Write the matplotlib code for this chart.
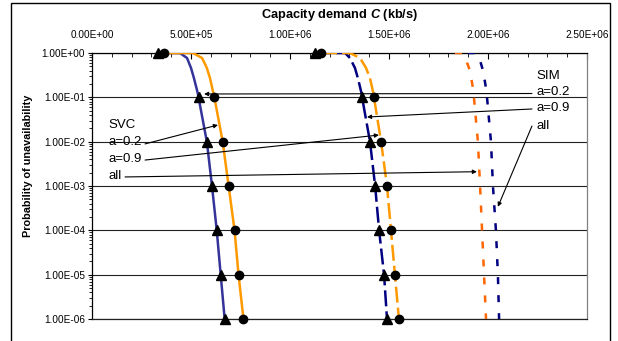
import matplotlib
matplotlib.use('Agg')
import matplotlib.pyplot as plt
from matplotlib.ticker import FixedLocator, FuncFormatter, NullFormatter
from matplotlib.patches import Rectangle

plt.rcParams['font.family'] = ['Liberation Sans', 'DejaVu Sans']
plt.rcParams['mathtext.fontset'] = 'custom'
plt.rcParams['mathtext.bfit'] = 'Liberation Sans:bold:italic'
plt.rcParams['mathtext.rm'] = 'Liberation Sans'

# probabilities along the smooth curves
p_curve = [1, 1, 0.77, 0.46, 0.27, 0.13, 0.1, 1e-2, 1e-3, 1e-4, 1e-5, 1e-6]
p_right = [1, 1, 0.8, 0.4, 0.16, 0.1, 1e-2, 1e-3, 1e-4, 1e-5, 1e-6]
# probabilities where markers sit
p_mark = [1, 1e-1, 1e-2, 1e-3, 1e-4, 1e-5, 1e-6]

# SVC curves (solid)
svc_a02_x = [3.33e5, 4.44e5, 4.80e5, 5.00e5, 5.15e5, 5.33e5, 5.38e5, 5.80e5, 6.06e5, 6.30e5, 6.50e5, 6.70e5]
svc_a09_x = [3.65e5, 5.10e5, 5.56e5, 5.80e5, 5.96e5, 6.12e5, 6.18e5, 6.60e5, 6.90e5, 7.20e5, 7.40e5, 7.65e5]
svc_a02_mark = [3.33e5, 5.38e5, 5.80e5, 6.06e5, 6.30e5, 6.50e5, 6.70e5]
svc_a09_mark = [3.65e5, 6.18e5, 6.60e5, 6.90e5, 7.20e5, 7.40e5, 7.65e5]

# middle curves (long dashes)
mid_a02_x = [1.126e6, 1.278e6, 1.303e6, 1.328e6, 1.343e6, 1.360e6, 1.364e6, 1.404e6, 1.430e6, 1.450e6, 1.475e6, 1.490e6]
mid_a09_x = [1.157e6, 1.303e6, 1.354e6, 1.384e6, 1.404e6, 1.420e6, 1.424e6, 1.460e6, 1.490e6, 1.510e6, 1.530e6, 1.550e6]
mid_a02_mark = [1.126e6, 1.364e6, 1.404e6, 1.430e6, 1.450e6, 1.475e6, 1.490e6]
mid_a09_mark = [1.157e6, 1.424e6, 1.460e6, 1.490e6, 1.510e6, 1.530e6, 1.550e6]

# right curves (short dashes, no markers)
right_or_x = [1.833e6, 1.869e6, 1.884e6, 1.909e6, 1.924e6, 1.929e6, 1.949e6, 1.960e6, 1.970e6, 1.980e6, 1.990e6]
right_nv_x = [1.899e6, 1.934e6, 1.955e6, 1.975e6, 1.990e6, 1.995e6, 2.015e6, 2.025e6, 2.040e6, 2.050e6, 2.056e6]

# axis ticks
x_major = [0, 5e5, 1e6, 1.5e6, 2e6, 2.5e6]
x_minor = [i * 1e5 for i in range(26)]
y_major = [1e-6, 1e-5, 1e-4, 1e-3, 1e-2, 1e-1, 1]
y_minor = [m * 10.0 ** e for e in range(-6, 0) for m in range(2, 10)]

fig = plt.figure(figsize=(6.18, 3.41), dpi=100)
ax = fig.add_axes([92/618, 1-319/341, (587-92)/618, (319-53)/341])

lw = 1.8
ax.plot(svc_a02_x, p_curve, color='#333399', lw=lw, solid_capstyle='butt', zorder=3)
ax.plot(svc_a09_x, p_curve, color='#FF9900', lw=lw, solid_capstyle='butt', zorder=3)
ax.plot(mid_a02_x, p_curve, color='#000080', lw=lw, dashes=(6.4, 2), zorder=3)
ax.plot(mid_a09_x, p_curve, color='#FF9900', lw=lw, dashes=(6.4, 2), zorder=3)
ax.plot(right_or_x, p_right, color='#FF6600', lw=lw, dashes=(2.8, 4.4), zorder=3)
ax.plot(right_nv_x, p_right, color='#000080', lw=lw, dashes=(2.8, 4.4), zorder=3)

ax.plot(svc_a02_mark, p_mark, ls='none', marker='^', ms=6.5, color='black', zorder=4, clip_on=False)
ax.plot(svc_a09_mark, p_mark, ls='none', marker='o', ms=6, color='black', zorder=4, clip_on=False)
ax.plot(mid_a02_mark, p_mark, ls='none', marker='^', ms=6.5, color='black', zorder=4, clip_on=False)
ax.plot(mid_a09_mark, p_mark, ls='none', marker='o', ms=6, color='black', zorder=4, clip_on=False)

ax.set_yscale('log')
ax.set_ylim(1e-6, 1)
ax.set_xlim(0, 2.5e6)

ax.xaxis.tick_top()
ax.xaxis.set_major_locator(FixedLocator(x_major))
ax.xaxis.set_minor_locator(FixedLocator(x_minor))
ax.xaxis.set_major_formatter(FuncFormatter(lambda v, pos: '%.2E' % v))
ax.tick_params(axis='x', which='major', direction='in', length=4, pad=9, labelsize=7.2)
ax.tick_params(axis='x', which='minor', direction='in', length=3)

ax.yaxis.set_major_locator(FixedLocator(y_major))
ax.yaxis.set_minor_locator(FixedLocator(y_minor))
ax.yaxis.set_minor_formatter(NullFormatter())
ax.yaxis.set_major_formatter(FuncFormatter(lambda v, pos: '%.2E' % v))
ax.tick_params(axis='y', which='major', direction='out', length=3, pad=2, labelsize=7.2)
ax.tick_params(axis='y', which='minor', direction='out', length=2)

ax.grid(axis='y', which='major', color='#222222', lw=0.8)
ax.set_axisbelow(True)
ax.spines['right'].set_color('#808080')
ax.spines['bottom'].set_color('#222222')
for s in ax.spines.values():
    s.set_linewidth(0.9)

fig.text(339.5/618, 1-15/341, r'Capacity demand $\mathbfit{C}$ (kb/s)', ha='center', va='center',
         fontsize=9.2, fontweight='bold')
fig.text(28/618, 1-166/341, 'Probability of unavailability', rotation=90, ha='center', va='center',
         fontsize=7.8, fontweight='bold')

# labels and arrows
txt = dict(fontsize=9.5, va='center', ha='left')
ax.text(0.81e5, 0.0238, 'SVC', **txt)
ax.text(0.81e5, 0.0098, 'a=0.2', **txt)
ax.text(0.81e5, 0.0041, 'a=0.9', **txt)
ax.text(0.81e5, 0.0017, 'all', **txt)
ax.text(2.247e6, 0.30, 'SIM', **txt)
ax.text(2.247e6, 0.130, 'a=0.2', **txt)
ax.text(2.247e6, 0.057, 'a=0.9', **txt)
ax.text(2.247e6, 0.0225, 'all', **txt)

arr = dict(arrowstyle='-|>', color='black', lw=0.8, mutation_scale=6, shrinkA=0, shrinkB=0)
ax.annotate('', xy=(6.36e5, 0.0238), xytext=(2.68e5, 0.0089), arrowprops=arr, zorder=5)
ax.annotate('', xy=(1.449e6, 0.0141), xytext=(2.68e5, 0.00385), arrowprops=arr, zorder=5)
ax.annotate('', xy=(1.944e6, 0.0021), xytext=(1.67e5, 0.0016), arrowprops=arr, zorder=5)
ax.annotate('', xy=(5.66e5, 0.119), xytext=(2.222e6, 0.122), arrowprops=arr, zorder=5)
ax.annotate('', xy=(1.389e6, 0.036), xytext=(2.222e6, 0.0546), arrowprops=arr, zorder=5)
ax.annotate('', xy=(2.05e6, 3.4e-4), xytext=(2.222e6, 0.0225), arrowprops=arr, zorder=5)

fig.patches.append(Rectangle((11/618, -0.1), (610-11)/618, 1.1-3/341, fill=False,
                             edgecolor='black', lw=1, transform=fig.transFigure))

fig.savefig('out.png', dpi=100)
